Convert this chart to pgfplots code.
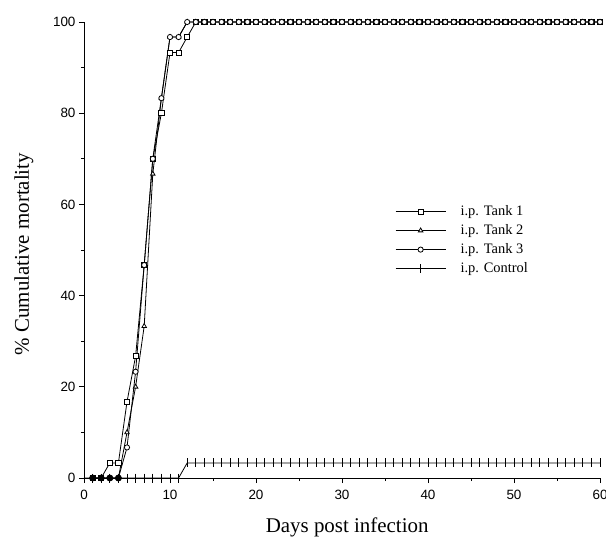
\documentclass[border=0pt]{standalone}
\usepackage{fontspec}
\setmainfont{Liberation Serif}
\newfontfamily\tickfont{Liberation Sans}
\usepackage{pgfplots}
\usepackage{pgfplotstable}
\pgfplotsset{compat=1.18}
\pgfplotstableread{
day t1 t2 t3 ctrl
0 0 0 0 0
1 0 0 0 0
2 0 0 0 0
3 3.3 0 0 0
4 3.3 0 0 0
5 16.7 10 6.7 0
6 26.7 20 23.3 0
7 46.7 33.3 46.7 0
8 70 66.7 70 0
9 80 83.3 83.3 0
10 93.3 96.7 96.7 0
11 93.3 96.7 96.7 0
12 96.7 100 100 3.3
13 100 100 100 3.3
14 100 100 100 3.3
15 100 100 100 3.3
16 100 100 100 3.3
17 100 100 100 3.3
18 100 100 100 3.3
19 100 100 100 3.3
20 100 100 100 3.3
21 100 100 100 3.3
22 100 100 100 3.3
23 100 100 100 3.3
24 100 100 100 3.3
25 100 100 100 3.3
26 100 100 100 3.3
27 100 100 100 3.3
28 100 100 100 3.3
29 100 100 100 3.3
30 100 100 100 3.3
31 100 100 100 3.3
32 100 100 100 3.3
33 100 100 100 3.3
34 100 100 100 3.3
35 100 100 100 3.3
36 100 100 100 3.3
37 100 100 100 3.3
38 100 100 100 3.3
39 100 100 100 3.3
40 100 100 100 3.3
41 100 100 100 3.3
42 100 100 100 3.3
43 100 100 100 3.3
44 100 100 100 3.3
45 100 100 100 3.3
46 100 100 100 3.3
47 100 100 100 3.3
48 100 100 100 3.3
49 100 100 100 3.3
50 100 100 100 3.3
51 100 100 100 3.3
52 100 100 100 3.3
53 100 100 100 3.3
54 100 100 100 3.3
55 100 100 100 3.3
56 100 100 100 3.3
57 100 100 100 3.3
58 100 100 100 3.3
59 100 100 100 3.3
60 100 100 100 3.3
}\mortality
\pgfplotstableread{
day y
1 0
2 0
3 0
4 0
}\overlap
\begin{document}
\begin{tikzpicture}
\path[use as bounding box] (-84bp,-59bp) rectangle (522bp,478bp);
\begin{axis}[
  at={(0,0)}, anchor=south west,
  scale only axis, width=516bp, height=456bp,
  xmin=0, xmax=60, ymin=0, ymax=100,
  axis lines*=left,
  axis line style={line width=0.8bp},
  tick align=outside,
  major tick length=5bp, minor tick length=3bp,
  tick style={line width=0.7bp, black},
  xtick={0,10,...,60}, ytick={0,20,...,100},
  minor x tick num=1, minor y tick num=1,
  /pgf/number format/assume math mode=true,
  ticklabel style={font=\tickfont\fontsize{13.5}{16}\selectfont},
  xticklabel style={yshift=-4bp},
  xlabel={Days post infection},
  ylabel={\% Cumulative mortality},
  xlabel style={font=\fontsize{21}{24}\selectfont, at={(axis description cs:0.51,-0.1185)}, anchor=base, inner sep=0pt},
  ylabel style={font=\fontsize{21}{24}\selectfont, at={(axis description cs:-0.1163,0.491)}, anchor=center},
  clip=false,
  legend style={draw=none, fill=none, at={(0.597,0.605)}, anchor=north west,
    font=\fontsize{14.5}{16}\selectfont, row sep=4.5bp, nodes={inner sep=1.5bp}},
  legend cell align=left,
  legend image code/.code={\draw[mark repeat=2,mark phase=2,#1] plot coordinates {(0bp,0bp) (25bp,0bp) (50bp,0bp)}; \path (63bp,0bp);},
  every axis plot/.append style={black, line width=0.8bp, mark options={solid, fill=white, line width=0.8bp}},
]
\addplot[mark=square*, mark size=2.6bp] table[x=day, y=t1, skip coords between index={0}{1}] {\mortality};
\addlegendentry{i.p. Tank 1}
\addplot[mark=triangle*, mark size=2.6bp] table[x=day, y=t2, skip coords between index={0}{1}] {\mortality};
\addlegendentry{i.p. Tank 2}
\addplot[mark=*, mark size=2.6bp] table[x=day, y=t3, skip coords between index={0}{1}] {\mortality};
\addlegendentry{i.p. Tank 3}
\addplot[mark=|, mark size=4.5bp] table[x=day, y=ctrl] {\mortality};
\addlegendentry{i.p. Control}
\addplot[forget plot, only marks, mark=*, mark size=3bp, mark options={fill=black}] table[x=day, y=y] {\overlap};
\end{axis}
\end{tikzpicture}
\end{document}
